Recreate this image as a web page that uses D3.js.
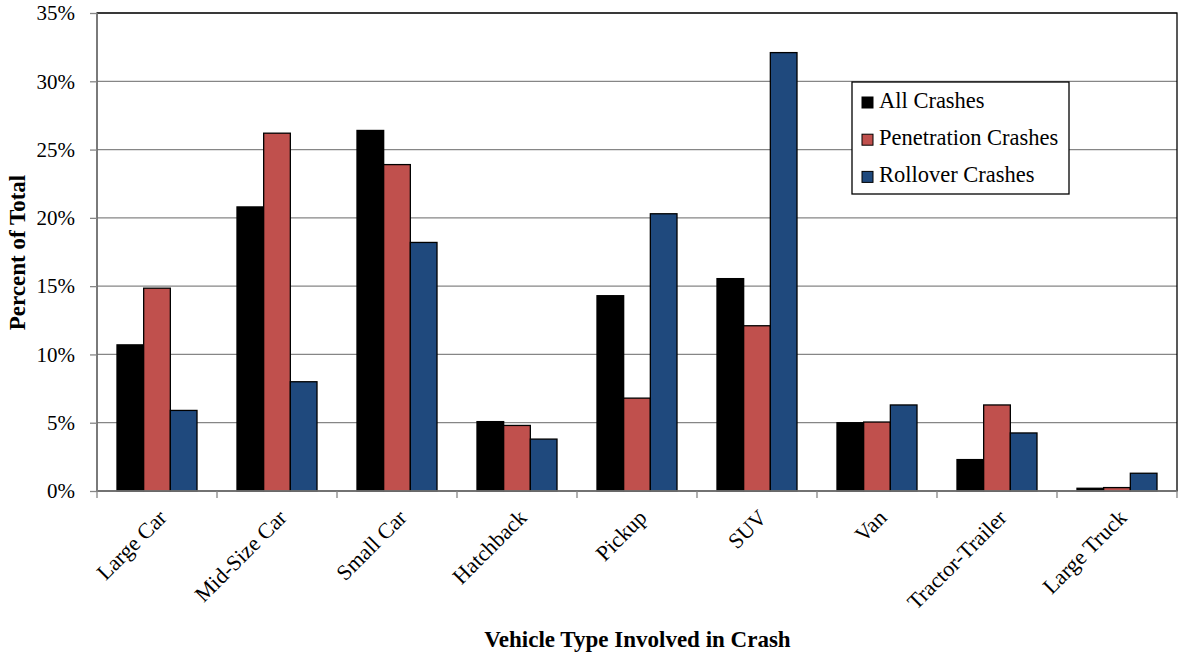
<!DOCTYPE html>
<html><head><meta charset="utf-8">
<script src="https://cdn.jsdelivr.net/npm/d3@7"></script>
<style>body{margin:0;background:#fff}svg{display:block}text{font-family:"Liberation Serif","Times New Roman",serif}</style>
</head><body><svg id="c" width="1180" height="652"></svg>
<script>
const categories = ["Large Car","Mid-Size Car","Small Car","Hatchback","Pickup","SUV","Van","Tractor-Trailer","Large Truck"];
const seriesNames = ["All Crashes","Penetration Crashes","Rollover Crashes"];
const allCrashes = [10.7, 20.8, 26.4, 5.08, 14.3, 15.55, 5.0, 2.3, 0.2];
const penetrationCrashes = [14.85, 26.2, 23.9, 4.8, 6.8, 12.1, 5.05, 6.3, 0.25];
const rolloverCrashes = [5.9, 8.0, 18.2, 3.8, 20.3, 32.1, 6.3, 4.25, 1.3];
const yTicks = [0,5,10,15,20,25,30,35];
const colors = ["#000000","#C0504D","#1F497D"];

const series = [allCrashes, penetrationCrashes, rolloverCrashes];
const svg = d3.select("#c");
const L=97, R=1177, T=13, B=491;
const x = d3.scaleBand().domain(categories).range([L,R]).paddingInner(0.3333).paddingOuter(0.16667);
const x1 = d3.scaleBand().domain(d3.range(3)).range([0, x.bandwidth()]);
const y = d3.scaleLinear().domain([0,35]).range([B,T]);

// gridlines
svg.append("g").selectAll("line").data(yTicks).join("line")
  .attr("x1",L).attr("x2",R).attr("y1",d=>y(d)).attr("y2",d=>y(d))
  .attr("stroke","#868686").attr("stroke-width",1.3);
// plot border
svg.append("rect").attr("x",L).attr("y",T).attr("width",R-L).attr("height",B-T)
  .attr("fill","none").attr("stroke","#000").attr("stroke-width",1.3);

// bars
categories.forEach((c,i)=>{
  series.forEach((s,j)=>{
    svg.append("rect")
      .attr("x", x(c)+x1(j)).attr("width", x1.bandwidth())
      .attr("y", y(s[i])).attr("height", y(0)-y(s[i]))
      .attr("fill", colors[j]).attr("stroke","#000").attr("stroke-width",1.3);
  });
});

// y axis
const yAxis = d3.axisLeft(y).tickValues(yTicks).tickFormat(d=>d+"%").tickSize(7).tickPadding(15);
const ga = svg.append("g").attr("transform",`translate(${L},0)`).call(yAxis);
ga.select(".domain").attr("stroke","#868686").attr("stroke-width",1.5).attr("d",`M0,${T}V${B}`);
ga.selectAll(".tick line").attr("stroke","#868686").attr("stroke-width",1.3);
ga.selectAll(".tick text").attr("font-size",21).attr("fill","#000").attr("font-family","Liberation Serif");

// x axis
const gx = svg.append("g").attr("transform",`translate(0,${B})`);
gx.append("line").attr("x1",L).attr("x2",R).attr("stroke","#868686").attr("stroke-width",1.5);
gx.selectAll(".bt").data(d3.range(categories.length+1)).join("line")
  .attr("x1",i=>L+i*x.step()).attr("x2",i=>L+i*x.step()).attr("y1",0).attr("y2",7)
  .attr("stroke","#868686").attr("stroke-width",1.3);
gx.selectAll("text").data(categories).join("text")
  .attr("transform",d=>`translate(${x(d)+x.bandwidth()/2+11},${28}) rotate(-45)`)
  .attr("text-anchor","end").attr("font-size",22).text(d=>d);

// titles
svg.append("text").attr("x",637.5).attr("y",647).attr("text-anchor","middle")
  .attr("font-size",23).attr("font-weight","bold").text("Vehicle Type Involved in Crash");
svg.append("text").attr("transform","translate(25,252.5) rotate(-90)").attr("text-anchor","middle")
  .attr("font-size",23).attr("font-weight","bold").text("Percent of Total");

// legend
const lg = svg.append("g");
lg.append("rect").attr("x",852).attr("y",82).attr("width",217).attr("height",112)
  .attr("fill","#fff").attr("stroke","#000").attr("stroke-width",1.3);
seriesNames.forEach((n,j)=>{
  const by = 108 + j*37.2;
  lg.append("rect").attr("x",862).attr("y",by-11).attr("width",11).attr("height",11)
    .attr("fill",colors[j]).attr("stroke","#000").attr("stroke-width",1);
  lg.append("text").attr("x",879).attr("y",by).attr("font-size",22.5).text(n);
});
</script></body></html>
